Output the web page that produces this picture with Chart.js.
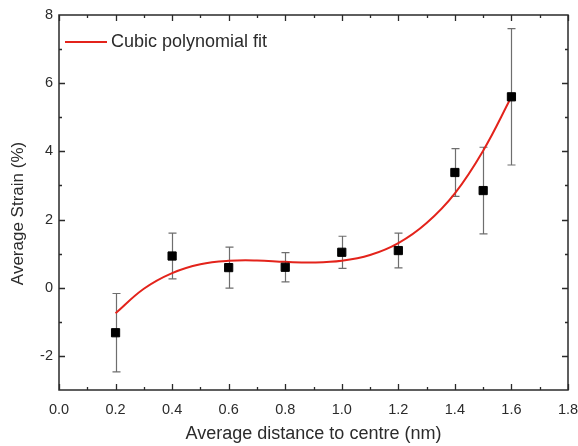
<!DOCTYPE html>
<html>
<head>
<meta charset="utf-8">
<script src="https://cdn.jsdelivr.net/npm/chart.js@4.4.1/dist/chart.umd.min.js"></script>
<style>
  html, body { margin: 0; padding: 0; background: #fff; }
  #wrap { width: 578px; height: 446px; }
</style>
</head>
<body>
<div id="wrap"><canvas id="c" width="578" height="446"></canvas></div>
<script>
// Measured strain against distance to the particle centre
const distance    = [0.2, 0.4, 0.6, 0.8, 1.0, 1.2, 1.4, 1.5, 1.6];
const strain      = [-1.32, 0.93, 0.59, 0.60, 1.04, 1.09, 3.38, 2.85, 5.60];
const strainError = [1.15, 0.67, 0.60, 0.43, 0.47, 0.51, 0.70, 1.27, 2.00];

// Cubic polynomial fit curve
const fitX = [0.2, 0.3, 0.4, 0.5, 0.6, 0.7, 0.8, 0.9, 1.0, 1.1, 1.2, 1.3, 1.4, 1.5, 1.6];
const fitY = [-0.75, -0.03, 0.43, 0.69, 0.79, 0.80, 0.76, 0.74, 0.79, 0.96, 1.31, 1.90, 2.77, 4.02, 5.60];

// Axis ticks and titles
const xTicks = [0.0, 0.2, 0.4, 0.6, 0.8, 1.0, 1.2, 1.4, 1.6, 1.8];
const yTicks = [-2, 0, 2, 4, 6, 8];
const xTitle = 'Average distance to centre (nm)';
const yTitle = 'Average Strain (%)';

const FONT = "'Liberation Sans', Arial, sans-serif";
const TEXT = '#2b2b2b';
const FRAME = '#2a2a2a';

// Frame, inward major/minor ticks, y title and legend
const framePlugin = {
  id: 'frame',
  afterDraw(chart) {
    const ctx = chart.ctx;
    const a = chart.chartArea;
    const xs = chart.scales.x, ys = chart.scales.y;
    ctx.save();
    ctx.strokeStyle = FRAME;
    ctx.lineWidth = 1.5;
    ctx.strokeRect(a.left, a.top, a.right - a.left, a.bottom - a.top);
    ctx.lineWidth = 1.3;
    ctx.beginPath();
    const xStep = xTicks[1] - xTicks[0];
    for (let i = 0; i < xTicks.length; i++) {
      const marks = [[xTicks[i], 6]];
      if (i < xTicks.length - 1) marks.push([xTicks[i] + xStep / 2, 3]);
      for (const [v, len] of marks) {
        const px = Math.round(xs.getPixelForValue(v)) + 0.5;
        ctx.moveTo(px, a.bottom); ctx.lineTo(px, a.bottom - len);
        ctx.moveTo(px, a.top); ctx.lineTo(px, a.top + len);
      }
    }
    const yStep = yTicks[1] - yTicks[0];
    for (let i = 0; i < yTicks.length; i++) {
      const marks = [[yTicks[i], 6], [yTicks[i] - yStep / 2, 3]];
      for (const [v, len] of marks) {
        if (v <= ys.min || v >= ys.max) continue;
        const py = Math.round(ys.getPixelForValue(v)) + 0.5;
        ctx.moveTo(a.left, py); ctx.lineTo(a.left + len, py);
        ctx.moveTo(a.right, py); ctx.lineTo(a.right - len, py);
      }
    }
    ctx.stroke();

    // rotated y-axis title, sitting slightly below the plot's middle
    ctx.fillStyle = TEXT;
    ctx.font = '17px ' + FONT;
    ctx.textAlign = 'center';
    ctx.textBaseline = 'middle';
    ctx.save();
    ctx.translate(18, (a.top + a.bottom) / 2 + 11);
    ctx.rotate(-Math.PI / 2);
    ctx.fillText(yTitle, 0, 0);
    ctx.restore();

    // legend entry for the fit curve
    const fit = chart.data.datasets[1];
    const ly = a.top + 27;
    ctx.strokeStyle = fit.borderColor;
    ctx.lineWidth = 1.8;
    ctx.beginPath();
    ctx.moveTo(a.left + 6, ly); ctx.lineTo(a.left + 48, ly);
    ctx.stroke();
    ctx.font = '18px ' + FONT;
    ctx.textAlign = 'left';
    ctx.fillText(fit.label, a.left + 52, ly);
    ctx.restore();
  }
};

// Vertical error bars with caps, drawn beneath the markers
const errorBarPlugin = {
  id: 'errorBars',
  beforeDatasetsDraw(chart) {
    const ctx = chart.ctx;
    const xs = chart.scales.x, ys = chart.scales.y;
    ctx.save();
    ctx.strokeStyle = '#6e6e6e';
    ctx.lineWidth = 1.2;
    ctx.beginPath();
    for (let i = 0; i < distance.length; i++) {
      const px = Math.round(xs.getPixelForValue(distance[i])) + 0.5;
      const top = ys.getPixelForValue(strain[i] + strainError[i]);
      const bot = ys.getPixelForValue(strain[i] - strainError[i]);
      ctx.moveTo(px, top); ctx.lineTo(px, bot);
      ctx.moveTo(px - 4, top); ctx.lineTo(px + 4, top);
      ctx.moveTo(px - 4, bot); ctx.lineTo(px + 4, bot);
    }
    ctx.stroke();
    ctx.restore();
  }
};

new Chart(document.getElementById('c'), {
  type: 'scatter',
  data: {
    datasets: [
      {
        label: 'Average strain',
        data: distance.map((x, i) => ({ x, y: strain[i] })),
        pointStyle: 'rect',
        pointRadius: 5.8,
        pointBackgroundColor: '#000',
        pointBorderColor: '#000',
        pointBorderWidth: 1,
        order: 0
      },
      {
        label: 'Cubic polynomial fit',
        data: fitX.map((x, i) => ({ x, y: fitY[i] })),
        showLine: true,
        borderColor: '#e3231b',
        borderWidth: 2,
        pointRadius: 0,
        tension: 0.4,
        order: 1
      }
    ]
  },
  options: {
    responsive: false,
    devicePixelRatio: 1,
    animation: false,
    layout: { padding: { top: 15, right: 10, left: 0, bottom: 0 } },
    plugins: { legend: { display: false }, tooltip: { enabled: false } },
    scales: {
      x: {
        type: 'linear',
        min: 0,
        max: 1.8,
        grid: { display: false, drawTicks: false },
        border: { display: false },
        afterBuildTicks: s => { s.ticks = xTicks.map(v => ({ value: v })); },
        afterFit: s => { s.height = 56; s.paddingLeft = 0; s.paddingRight = 0; },
        ticks: {
          color: TEXT,
          padding: 11,
          maxRotation: 0,
          font: { family: FONT, size: 14.5 },
          callback: v => Number(v).toFixed(1)
        },
        title: {
          display: true,
          text: xTitle,
          color: TEXT,
          font: { family: FONT, size: 18 },
          padding: { top: 0, bottom: 1 }
        }
      },
      y: {
        type: 'linear',
        min: -3,
        max: 8,
        grid: { display: false, drawTicks: false },
        border: { display: false },
        afterBuildTicks: s => { s.ticks = yTicks.map(v => ({ value: v })); },
        afterFit: s => { s.width = 59; s.paddingTop = 0; s.paddingBottom = 0; },
        ticks: {
          color: TEXT,
          padding: 6,
          font: { family: FONT, size: 14.5 },
          callback: v => String(v)
        }
      }
    }
  },
  plugins: [errorBarPlugin, framePlugin]
});
</script>
</body>
</html>
